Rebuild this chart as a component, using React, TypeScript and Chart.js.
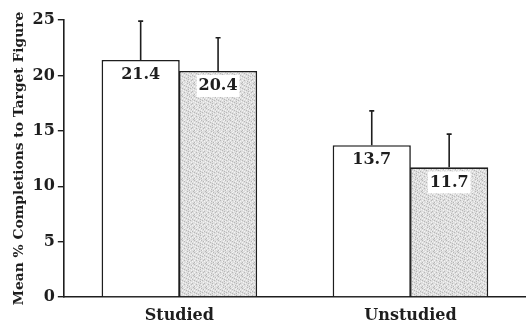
import React, { useEffect, useRef } from "react";
import { Chart, registerables } from "chart.js";

Chart.register(...registerables);

const categories = ["Studied", "Unstudied"];
const openValues = [21.4, 13.7];
const shadedValues = [20.4, 11.7];
const openErrorTop = [24.9, 16.8];
const shadedErrorTop = [23.4, 14.7];
const yTicks = [0, 5, 10, 15, 20, 25];
const yTitle = "Mean % Completions to Target Figure";

const INK = "#1e1e1e";
const FONT = "'DejaVu Serif', serif";

function makeStipple(): CanvasPattern | string {
  const rows = [
    "aabacaaacbaa",
    "caaabaacaaab",
    "aacaaabaacaa",
    "baaacaaabaac",
    "aabaaacaaaba",
    "acaabaaabcaa",
    "aaacaabaaaac",
    "baaaacaabaaa",
    "aacabaaaacab",
    "caaaaacbaaaa",
    "aabcaaaaabca",
    "abaaacabaaaa",
  ];
  const c = document.createElement("canvas");
  c.width = 12;
  c.height = 12;
  const g = c.getContext("2d");
  if (!g) return "#dcdcdc";
  const col: Record<string, string> = { a: "#dedede", b: "#b8b8b8", c: "#f4f4f4" };
  rows.forEach((r, y) => {
    for (let x = 0; x < r.length; x++) {
      g.fillStyle = col[r[x]];
      g.fillRect(x, y, 1, 1);
    }
  });
  return g.createPattern(c, "repeat") || "#dcdcdc";
}

const errorAndLabels = {
  id: "errorAndLabels",
  afterDatasetsDraw(chart: any) {
    const ctx = chart.ctx;
    const y = chart.scales.y;
    const tops = [openErrorTop, shadedErrorTop];
    chart.data.datasets.forEach((ds: any, di: number) => {
      const meta = chart.getDatasetMeta(di);
      meta.data.forEach((bar: any, i: number) => {
        const x = bar.x;
        const yTop = bar.y;
        const yErr = y.getPixelForValue(tops[di][i]);
        ctx.save();
        ctx.strokeStyle = INK;
        ctx.lineWidth = 1.6;
        ctx.beginPath();
        ctx.moveTo(x, yTop);
        ctx.lineTo(x, yErr);
        ctx.moveTo(x - 2.5, yErr);
        ctx.lineTo(x + 2.5, yErr);
        ctx.stroke();
        const txt = ds.data[i].toFixed(1);
        ctx.font = "bold 16px " + FONT;
        ctx.textAlign = "center";
        ctx.textBaseline = "middle";
        const ty = yTop + 15;
        if (di === 1) {
          const w = ctx.measureText(txt).width + 4;
          ctx.fillStyle = "#ffffff";
          ctx.fillRect(x - w / 2, yTop + 4, w, 22);
        }
        ctx.fillStyle = INK;
        ctx.fillText(txt, x, ty);
        ctx.restore();
      });
    });
  },
};

export default function App() {
  const ref = useRef<HTMLCanvasElement | null>(null);
  useEffect(() => {
    document.body.style.margin = "0";
    if (!ref.current) return;
    const chart = new Chart(ref.current, {
      type: "bar",
      data: {
        labels: categories,
        datasets: [
          {
            data: openValues,
            backgroundColor: "#ffffff",
            borderColor: INK,
            borderWidth: { top: 1.6, left: 1.6, right: 1.6, bottom: 0 } as any,
            borderSkipped: false,
            categoryPercentage: 0.67,
            barPercentage: 1.01,
          },
          {
            data: shadedValues,
            backgroundColor: makeStipple() as any,
            borderColor: INK,
            borderWidth: { top: 1.6, left: 1.6, right: 1.6, bottom: 0 } as any,
            borderSkipped: false,
            categoryPercentage: 0.67,
            barPercentage: 1.01,
          },
        ],
      },
      options: {
        animation: false,
        responsive: false,
        layout: { padding: { top: 20, right: -6, left: 11, bottom: -6 } },
        plugins: { legend: { display: false }, tooltip: { enabled: false } },
        scales: {
          x: {
            grid: { display: false, drawTicks: false },
            border: { display: true, color: INK, width: 1.6 },
            ticks: {
              color: INK,
              padding: 11,
              font: { family: FONT, size: 16, weight: "bold", lineHeight: 1 },
            },
          },
          y: {
            min: 0,
            max: 25,
            afterBuildTicks: (s: any) => {
              s.ticks = yTicks.map((v) => ({ value: v }));
            },
            grid: { drawOnChartArea: false, drawTicks: true, tickLength: 6, color: INK, lineWidth: 1.4 },
            border: { display: true, color: INK, width: 1.6 },
            ticks: {
              color: INK,
              padding: 3,
              font: { family: FONT, size: 16, weight: "bold" },
            },
            title: {
              display: true,
              text: yTitle,
              color: INK,
              padding: { top: 0, bottom: 2 },
              font: { family: FONT, size: 13.8, weight: "bold" },
            },
          },
        },
      },
      plugins: [errorAndLabels],
    });
    return () => chart.destroy();
  }, []);
  return (
    <div style={{ width: 526, height: 329, background: "#fff" }}>
      <canvas ref={ref} width={526} height={329} />
    </div>
  );
}
